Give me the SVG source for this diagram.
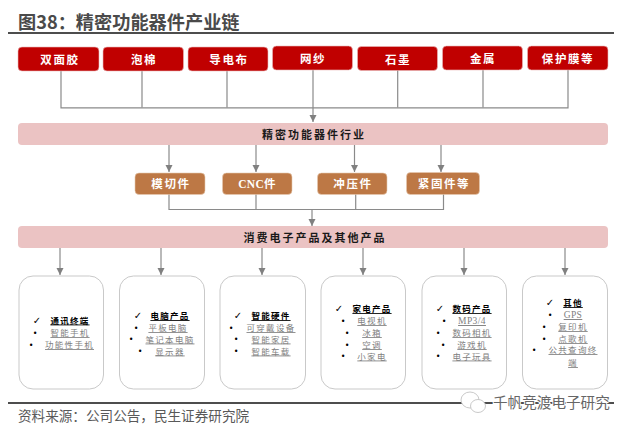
<svg xmlns="http://www.w3.org/2000/svg" width="631" height="429" viewBox="0 0 631 429">
<style>
text{font-family:"Liberation Serif","Noto Sans CJK SC",serif;text-anchor:middle}
.rule{stroke:#4d4d4d;stroke-width:2;fill:none}
.title{font-family:"Noto Sans CJK SC",sans-serif;font-size:18.2px;font-weight:700;fill:#4a4a4a;text-anchor:start}
.src{font-family:"Noto Sans CJK SC",sans-serif;font-size:13.6px;fill:#595959;text-anchor:start}
.mat{fill:#c00000;stroke:#e9b9b9;stroke-width:.6}
.band{fill:#ebc3c3}
.proc{fill:#bd7845;stroke:#e6c9b0;stroke-width:.6}
.wt{fill:#fff;font-size:11.5px;font-weight:700;letter-spacing:1.6px}
.bt{fill:#1a1a1a;font-size:11px;font-weight:700;letter-spacing:2px}
.card{fill:#fff;stroke:#c9c9c9;stroke-width:1}
.h{fill:#000;font-size:8.5px;font-weight:700;letter-spacing:1.3px;text-decoration:underline}
.i{fill:#808080;font-size:8.5px;letter-spacing:1.3px;text-decoration:underline}
.m{fill:#000;font-family:"DejaVu Sans",sans-serif;font-size:8px}
.k{fill:#000;font-family:"DejaVu Sans",sans-serif;font-size:10px}
.c{fill:none;stroke:#8a8a8a;stroke-width:1.2}
.wm{font-family:"Noto Sans CJK SC",sans-serif;font-size:14.6px;fill:#666;stroke:#fff;stroke-width:2;paint-order:stroke;text-anchor:start}
</style>
<defs>
<marker id="arr" markerUnits="userSpaceOnUse" markerWidth="8" markerHeight="8" refX="7" refY="3.500" orient="auto"><path d="M0 0L7 3.500L0 7Z" fill="#808080"/></marker>
</defs>
<text class="title" x="18" y="29">图38：精密功能器件产业链</text>
<path class="rule" d="M8 33H614"/>
<path class="rule" d="M8 403H614"/>
<g id="connectors">
<path class="c" d="M61 71V107.8H568V69"/>
<path class="c" d="M142 70V107.5M227 70V107.5M397.7 70V107.5M483 69V107.5"/>
<path class="c" d="M313 70V122" marker-end="url(#arr)"/>
<path class="c" d="M169 145V172" marker-end="url(#arr)"/>
<path class="c" d="M256 145V172" marker-end="url(#arr)"/>
<path class="c" d="M354.5 145V172" marker-end="url(#arr)"/>
<path class="c" d="M441 145V172" marker-end="url(#arr)"/>
<path class="c" d="M169 194V209.5H443.500V194"/>
<path class="c" d="M256 194V209.500M355.700 194V209.500"/>
<path class="c" d="M312 209.500V226" marker-end="url(#arr)"/>
<path class="c" d="M60 248V275" marker-end="url(#arr)"/>
<path class="c" d="M161 248V275" marker-end="url(#arr)"/>
<path class="c" d="M262 248V275" marker-end="url(#arr)"/>
<path class="c" d="M363 248V275" marker-end="url(#arr)"/>
<path class="c" d="M464 248V275" marker-end="url(#arr)"/>
<path class="c" d="M565 248V275" marker-end="url(#arr)"/>
</g>
<g id="m1"><rect class="mat" x="18" y="47" width="81" height="24" rx="4"/><text class="wt" x="60" y="64">双面胶</text></g>
<g id="m2"><rect class="mat" x="103" y="47" width="80.500" height="24" rx="4"/><text class="wt" x="144" y="63.500">泡棉</text></g>
<g id="m3"><rect class="mat" x="188" y="47" width="80" height="24" rx="4"/><text class="wt" x="229" y="64">导电布</text></g>
<g id="m4"><rect class="mat" x="272.500" y="46" width="80" height="24" rx="4"/><text class="wt" x="313" y="63">网纱</text></g>
<g id="m5"><rect class="mat" x="357.500" y="46.500" width="80" height="24" rx="4"/><text class="wt" x="398" y="63.500">石墨</text></g>
<g id="m6"><rect class="mat" x="442.500" y="46" width="80" height="24" rx="4"/><text class="wt" x="483" y="63">金属</text></g>
<g id="m7"><rect class="mat" x="527.500" y="46" width="80.500" height="24" rx="4"/><text class="wt" x="568" y="63">保护膜等</text></g>
<g id="industry"><rect class="band" x="18" y="123" width="590" height="22" rx="4"/><text class="bt" x="314" y="138.500">精密功能器件行业</text></g>
<g id="p1"><rect class="proc" x="135" y="173" width="70" height="21.500" rx="4"/><text class="wt" x="171" y="188">模切件</text></g>
<g id="p2"><rect class="proc" x="222.500" y="173" width="69.500" height="21.500" rx="4"/><text class="wt" x="257" y="188" style="letter-spacing:.3px">CNC件</text></g>
<g id="p3"><rect class="proc" x="317.500" y="173" width="69.500" height="21.500" rx="4"/><text class="wt" x="353" y="188">冲压件</text></g>
<g id="p4"><rect class="proc" x="406.500" y="172.500" width="73" height="22" rx="4"/><text class="wt" x="444" y="188">紧固件等</text></g>
<g id="consumer"><rect class="band" x="18" y="226" width="590" height="22" rx="4"/><text class="bt" x="315" y="241.500">消费电子产品及其他产品</text></g>
<g id="card1"><rect class="card" x="19" y="276" width="84.500" height="113" rx="14"/>
<text class="k" x="37" y="323.500">✓</text><text class="h" x="70" y="323.500">通讯终端</text>
<text class="m" x="35" y="335.500">•</text><text class="i" x="70" y="336">智能手机</text>
<text class="m" x="31" y="347.500">•</text><text class="i" x="69.500" y="348">功能性手机</text></g>
<g id="card2"><rect class="card" x="119.500" y="276" width="85" height="113" rx="14"/>
<text class="k" x="138" y="319">✓</text><text class="h" x="170" y="319">电脑产品</text>
<text class="m" x="136" y="330.500">•</text><text class="i" x="168" y="331">平板电脑</text>
<text class="m" x="131" y="341.500">•</text><text class="i" x="170" y="342.500">笔记本电脑</text>
<text class="m" x="140" y="353.500">•</text><text class="i" x="170" y="354.500">显示器</text></g>
<g id="card3"><rect class="card" x="220" y="276" width="85.500" height="113" rx="14"/>
<text class="k" x="238" y="319">✓</text><text class="h" x="271" y="319">智能硬件</text>
<text class="m" x="231" y="330.500">•</text><text class="i" x="271" y="331">可穿戴设备</text>
<text class="m" x="236" y="341.500">•</text><text class="i" x="271" y="342.500">智能家居</text>
<text class="m" x="236" y="353.500">•</text><text class="i" x="271" y="354.500">智能车载</text></g>
<g id="card4"><rect class="card" x="321" y="276" width="84.500" height="113" rx="14"/>
<text class="k" x="339" y="312">✓</text><text class="h" x="372" y="312">家电产品</text>
<text class="m" x="343" y="323.500">•</text><text class="i" x="372" y="324">电视机</text>
<text class="m" x="347" y="335.500">•</text><text class="i" x="372" y="336">冰箱</text>
<text class="m" x="347" y="347.500">•</text><text class="i" x="372" y="348">空调</text>
<text class="m" x="343" y="358.500">•</text><text class="i" x="372" y="359.500">小家电</text></g>
<g id="card5"><rect class="card" x="422" y="276" width="84.500" height="113" rx="14"/>
<text class="k" x="440" y="312">✓</text><text class="h" x="472" y="312">数码产品</text>
<text class="m" x="444" y="323.500">•</text><text class="i" x="472" y="324" style="letter-spacing:.4px;font-size:9.5px">MP3/4</text>
<text class="m" x="438" y="335.500">•</text><text class="i" x="472" y="336">数码相机</text>
<text class="m" x="443" y="347.500">•</text><text class="i" x="472" y="348">游戏机</text>
<text class="m" x="438" y="358.500">•</text><text class="i" x="472" y="359.500">电子玩具</text></g>
<g id="card6"><rect class="card" x="522.500" y="276" width="85" height="113" rx="14"/>
<text class="k" x="550" y="306">✓</text><text class="h" x="573" y="306">其他</text>
<text class="m" x="550" y="317.500">•</text><text class="i" x="573" y="318" style="letter-spacing:.4px;font-size:9.5px">GPS</text>
<text class="m" x="544" y="329.500">•</text><text class="i" x="573" y="330">复印机</text>
<text class="m" x="544" y="341.500">•</text><text class="i" x="573" y="342">点歌机</text>
<text class="m" x="534" y="352.500">•</text><text class="i" x="573" y="353">公共查询终</text>
<text class="i" x="573" y="366">端</text></g>
<text class="src" x="18" y="421">资料来源：公司公告，民生证券研究院</text>
<g id="watermark">
<ellipse cx="470" cy="400" rx="9" ry="8" fill="#fff" stroke="#bbb" stroke-width=".8"/>
<ellipse cx="478" cy="406" rx="7.500" ry="6.500" fill="#fff" stroke="#bbb" stroke-width=".8"/>
<text class="wm" x="493" y="408">千帆竞渡电子研究</text>
</g>
</svg>
